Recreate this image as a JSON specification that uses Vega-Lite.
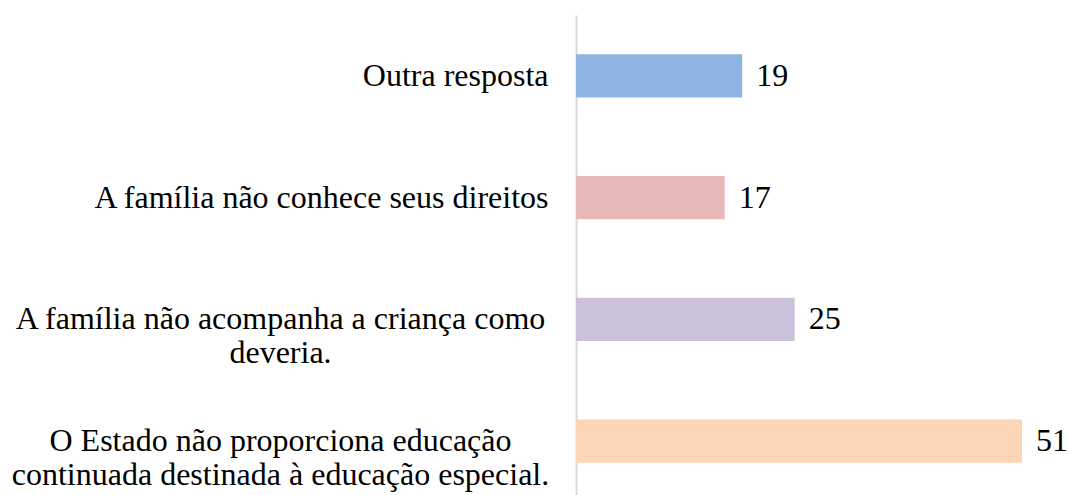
{
  "$schema": "https://vega.github.io/schema/vega-lite/v6.json",
  "width": 446,
  "height": 487,
  "autosize": {"type": "none"},
  "padding": {"left": 576, "top": 15, "right": 46, "bottom": 0},
  "background": "white",
  "config": {"view": {"stroke": null}, "font": "'Liberation Serif', 'Times New Roman', serif"},
  "data": {
    "values": [
      {"category": "Outra resposta", "value": 19, "color": "#8EB4E3"},
      {"category": "A família não conhece seus direitos", "value": 17, "color": "#E6B9B8"},
      {"category": "A família não acompanha a criança como|deveria.", "value": 25, "color": "#CCC1DA"},
      {"category": "O Estado não proporciona educação|continuada destinada à educação especial.", "value": 51, "color": "#FBD5B5"}
    ]
  },
  "encoding": {
    "y": {
      "field": "category",
      "type": "nominal",
      "sort": null,
      "scale": {"paddingInner": 0.645, "paddingOuter": 0.3225},
      "axis": {
        "title": null,
        "domain": true,
        "domainColor": "#D9D9D9",
        "domainWidth": 2,
        "ticks": false,
        "labelPadding": {"condition": {"test": "indexof(datum.value, '|') >= 0", "value": 296}, "value": 28},
        "labelAlign": {"condition": {"test": "indexof(datum.value, '|') >= 0", "value": "center"}, "value": "right"},
        "labelFont": "'Liberation Serif', 'Times New Roman', serif",
        "labelFontSize": 32,
        "labelColor": "black",
        "labelLimit": 800,
        "labelLineHeight": 34,
        "labelExpr": "split(datum.label, '|')"
      }
    },
    "x": {
      "field": "value",
      "type": "quantitative",
      "scale": {"domain": [0, 51], "nice": false},
      "axis": null
    }
  },
  "layer": [
    {
      "mark": {"type": "bar"},
      "encoding": {
        "color": {"field": "color", "type": "nominal", "scale": null, "legend": null}
      }
    },
    {
      "mark": {"type": "text", "align": "left", "baseline": "middle", "dx": 14, "font": "'Liberation Serif', 'Times New Roman', serif", "fontSize": 32, "color": "black"},
      "encoding": {"text": {"field": "value", "type": "quantitative"}}
    }
  ]
}
